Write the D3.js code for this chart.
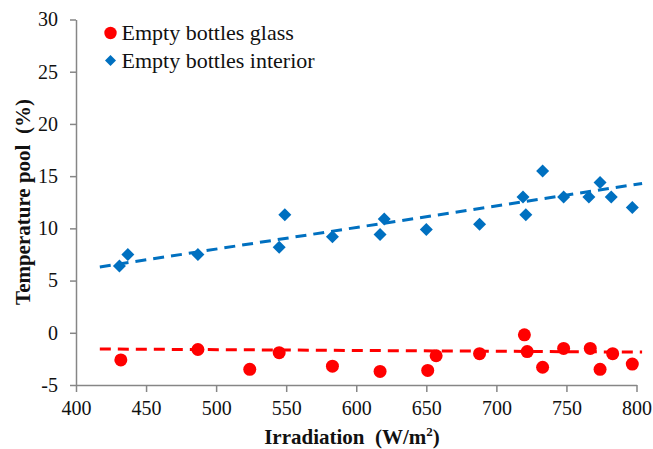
<!DOCTYPE html>
<html>
<head>
<meta charset="utf-8">
<script src="https://cdn.jsdelivr.net/npm/d3@7"></script>
<style>
  body { margin: 0; background: #fff; }
  svg text { font-family: 'Liberation Serif', 'Times New Roman', serif; }
</style>
</head>
<body>
<div id="chart"></div>
<script>
// data
const glassX = [432, 487, 524, 545, 583, 617, 651, 657, 688, 720, 722, 733, 748, 767, 774, 783, 797];
const glassY = [-2.6, -1.6, -3.5, -1.9, -3.2, -3.7, -3.6, -2.2, -2.0, -0.2, -1.8, -3.3, -1.5, -1.5, -3.5, -2.0, -3.0];
const interiorX = [431, 437, 487, 545, 549, 583, 617, 620, 650, 688, 719, 721, 733, 748, 766, 774, 782, 797];
const interiorY = [6.4, 7.5, 7.5, 8.2, 11.3, 9.2, 9.4, 10.9, 9.9, 10.4, 13.0, 11.3, 15.5, 13.0, 13.0, 14.4, 13.0, 12.0];
// dashed trendlines, start and end as drawn
const trendX = [417, 804];
const glassTrend = [-1.55, -1.85];
const interiorTrend = [6.3, 14.3];
const xTicks = [400, 450, 500, 550, 600, 650, 700, 750, 800];
const yTicks = [-5, 0, 5, 10, 15, 20, 25, 30];

const width = 653, height = 449;
const margin = { top: 19.5, right: 16, bottom: 64, left: 76 };
const serif = "'Liberation Serif', 'Times New Roman', serif";

const svg = d3.select("#chart").append("svg")
  .attr("width", width)
  .attr("height", height);

const x = d3.scaleLinear().domain([400, 800]).range([margin.left, width - margin.right - 0.5]);
const y = d3.scaleLinear().domain([-5, 30]).range([height - margin.bottom, margin.top]);

// axes
const xAxis = svg.append("g")
  .attr("transform", `translate(0,${y(-5)})`)
  .call(d3.axisBottom(x).tickValues(xTicks).tickSize(7).tickSizeOuter(0).tickPadding(9));
const yAxis = svg.append("g")
  .attr("transform", `translate(${x(400)},0)`)
  .call(d3.axisLeft(y).tickValues(yTicks).tickSize(6).tickSizeOuter(0).tickPadding(12)
    .tickFormat(d => d < 0 ? "-" + Math.abs(d) : d));

[xAxis, yAxis].forEach(a => {
  a.attr("font-family", serif).attr("font-size", 20);
  a.select(".domain").attr("stroke", "#868686").attr("stroke-width", 1.5);
  a.selectAll(".tick line").attr("stroke", "#868686").attr("stroke-width", 1.5);
  a.selectAll(".tick text").attr("fill", "#111");
});

// axis titles
svg.append("text")
  .attr("x", 352)
  .attr("y", 444)
  .attr("text-anchor", "middle")
  .attr("font-family", serif)
  .attr("font-size", 21)
  .attr("font-weight", "bold")
  .attr("fill", "#111")
  .html('Irradiation&#160;&#160;(W/m<tspan dy="-8" font-size="13">2</tspan><tspan dy="8">)</tspan>');

svg.append("text")
  .attr("transform", `translate(30,202) rotate(-90)`)
  .attr("text-anchor", "middle")
  .attr("font-family", serif)
  .attr("font-size", 21)
  .attr("font-weight", "bold")
  .attr("fill", "#111")
  .text("Temperature pool\u00a0\u00a0(%)");

const series = [
  { xs: glassX, ys: glassY, trend: glassTrend, color: "#ff0000", shape: "circle", name: "Empty bottles glass" },
  { xs: interiorX, ys: interiorY, trend: interiorTrend, color: "#0070c0", shape: "diamond", name: "Empty bottles interior" }
];

function marker(shape, s) {
  if (shape === "circle") return d3.symbol().type(d3.symbolCircle).size(Math.PI * s * s)();
  // square turned 45 degrees, s = half diagonal
  return `M0,${-s}L${s},0L0,${s}L${-s},0Z`;
}

const line = d3.line().x(d => x(d[0])).y(d => y(d[1]));

series.forEach(s => {
  svg.append("path")
    .datum(trendX.map((v, i) => [v, s.trend[i]]))
    .attr("d", line)
    .attr("fill", "none")
    .attr("stroke", s.color)
    .attr("stroke-width", 3)
    .attr("stroke-dasharray", "11,7");
});

series.forEach(s => {
  svg.append("g")
    .selectAll("path")
    .data(s.xs.map((v, i) => [v, s.ys[i]]))
    .join("path")
    .attr("transform", d => `translate(${x(d[0])},${y(d[1])})`)
    .attr("d", marker(s.shape, 6.5))
    .attr("fill", s.color);
});

// legend
const legend = svg.append("g")
  .selectAll("g")
  .data(series)
  .join("g")
  .attr("transform", (d, i) => `translate(110.5,${33 + i * 27.5})`);

legend.append("path")
  .attr("d", d => marker(d.shape, d.shape === "circle" ? 6.2 : 5.5))
  .attr("fill", d => d.color);

legend.append("text")
  .attr("x", 11)
  .attr("y", 7)
  .attr("font-family", serif)
  .attr("font-size", 22)
  .attr("fill", "#111")
  .text(d => d.name);
</script>
</body>
</html>
